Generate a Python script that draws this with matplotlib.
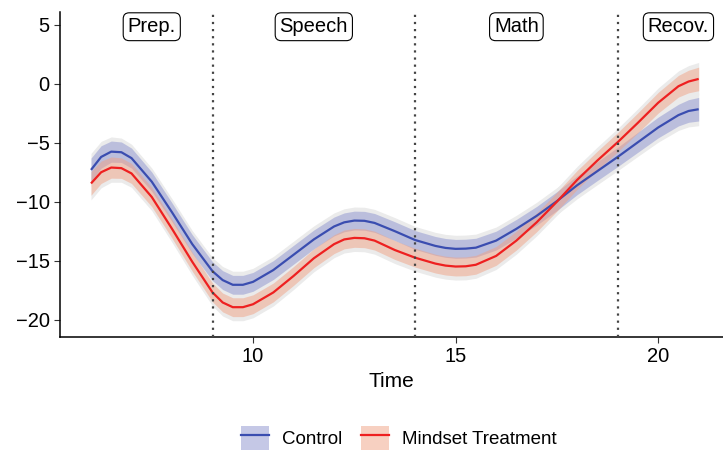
import numpy as np
import matplotlib
matplotlib.use('Agg')
import matplotlib.pyplot as plt
from matplotlib.patches import Patch
from matplotlib.lines import Line2D

plt.rcParams['font.family'] = ['Liberation Sans', 'DejaVu Sans']

# time points (denser near the turning points)
time = [6.0, 6.25, 6.5, 6.75, 7.0, 7.5, 8.0, 8.5, 9.0, 9.25, 9.5, 9.75, 10.0, 10.5,
        11.0, 11.5, 12.0, 12.25, 12.5, 12.75, 13.0, 13.5, 14.0, 14.5, 14.75, 15.0,
        15.25, 15.5, 16.0, 16.5, 17.0, 17.5, 18.0, 18.5, 19.0, 19.5, 20.0, 20.5,
        20.75, 21.0]

control = [-7.3, -6.2, -5.75, -5.8, -6.3, -8.3, -10.9, -13.6, -15.9, -16.65, -17.05,
           -17.05, -16.8, -15.8, -14.5, -13.2, -12.1, -11.75, -11.6, -11.62, -11.8,
           -12.5, -13.25, -13.75, -13.92, -14.0, -13.98, -13.9, -13.3, -12.3, -11.2,
           -9.95, -8.6, -7.4, -6.2, -4.95, -3.7, -2.65, -2.3, -2.15]

mindset = [-8.45, -7.5, -7.1, -7.15, -7.6, -9.6, -12.3, -15.1, -17.7, -18.55, -18.95,
           -18.95, -18.7, -17.7, -16.3, -14.8, -13.6, -13.2, -13.07, -13.1, -13.3,
           -14.1, -14.75, -15.25, -15.42, -15.5, -15.48, -15.35, -14.6, -13.3, -11.75,
           -10.0, -8.15, -6.5, -4.95, -3.3, -1.6, -0.2, 0.2, 0.42]

# half widths of the coloured (inner) and grey (outer) ribbons
inner_se = [1.0, 0.95, 0.9, 0.87, 0.85, 0.82, 0.8, 0.8, 0.8, 0.8, 0.8, 0.8, 0.8, 0.8,
            0.8, 0.8, 0.8, 0.8, 0.8, 0.8, 0.8, 0.8, 0.8, 0.8, 0.8, 0.8, 0.8, 0.8,
            0.8, 0.8, 0.8, 0.8, 0.8, 0.8, 0.82, 0.85, 0.88, 0.92, 0.96, 1.0]
outer_se = [1.4, 1.32, 1.25, 1.2, 1.18, 1.16, 1.15, 1.15, 1.15, 1.15, 1.15, 1.15, 1.15,
            1.15, 1.15, 1.15, 1.15, 1.15, 1.15, 1.15, 1.15, 1.15, 1.15, 1.15, 1.15,
            1.15, 1.15, 1.15, 1.15, 1.15, 1.15, 1.15, 1.15, 1.15, 1.17, 1.2, 1.25,
            1.3, 1.35, 1.4]

phases = ['Prep.', 'Speech', 'Math', 'Recov.']
phase_centers = [7.5, 11.5, 16.5, 20.5]
phase_bounds = [9, 14, 19]

blue = '#3a4db0'
red = '#ee2020'
blue_fill = '#8c93cf'
red_fill = '#f0a285'

t = np.array(time)
series = [(np.array(control), blue, blue_fill, 'Control'),
          (np.array(mindset), red, red_fill, 'Mindset Treatment')]
inner = np.array(inner_se)
outer = np.array(outer_se)

fig = plt.figure(figsize=(7.23, 4.54), dpi=100)
ax = fig.add_axes([60 / 723, 117 / 454, 663 / 723, 325 / 454])

for y, c, fc, lab in series:
    ax.fill_between(t, y - outer, y + outer, color='#ebebeb', lw=0, zorder=1)
for y, c, fc, lab in series:
    ax.fill_between(t, y - inner, y + inner, color=fc, alpha=0.5, lw=0, zorder=2)
for y, c, fc, lab in series:
    ax.plot(t, y, color=c, lw=1.6, zorder=3, solid_joinstyle='round',
            solid_capstyle='butt')

for b in phase_bounds:
    ax.axvline(b, color='#444444', lw=1.6, ls=(0, (1, 2.2)), zorder=4)

for name, xc in zip(phases, phase_centers):
    ax.text(xc, 4.85, name, ha='center', va='center', fontsize=14.5, zorder=5,
            bbox=dict(boxstyle='round,pad=0.22,rounding_size=0.3', fc='white',
                      ec='black', lw=0.8))

ax.set_xlim(5.235, 21.6)
ax.set_ylim(-21.48, 6.1)
ax.set_xticks([10, 15, 20])
ax.set_yticks([-20, -15, -10, -5, 0, 5])
ax.set_yticklabels(['\u221220', '\u221215', '\u221210', '\u22125', '0', '5'])
ax.tick_params(labelsize=14.5, length=4, width=0.8, color='#333333', labelcolor='black')
for s in ['top', 'right']:
    ax.spines[s].set_visible(False)
for s in ['left', 'bottom']:
    ax.spines[s].set_linewidth(1.1)
ax.set_xlabel('Time', fontsize=15, labelpad=4)

handles = [(Patch(facecolor=blue_fill, alpha=0.5, lw=0), Line2D([], [], color=blue, lw=1.6)),
           (Patch(facecolor=red_fill, alpha=0.5, lw=0), Line2D([], [], color=red, lw=1.6))]
fig.legend(handles, ['Control', 'Mindset Treatment'], loc='center',
           bbox_to_anchor=(399 / 723, 1 - 438 / 454), ncol=2, frameon=False,
           fontsize=13.5, handlelength=1.5, handleheight=1.6, columnspacing=1.0,
           handletextpad=0.7)

fig.savefig('out.png', dpi=100)
